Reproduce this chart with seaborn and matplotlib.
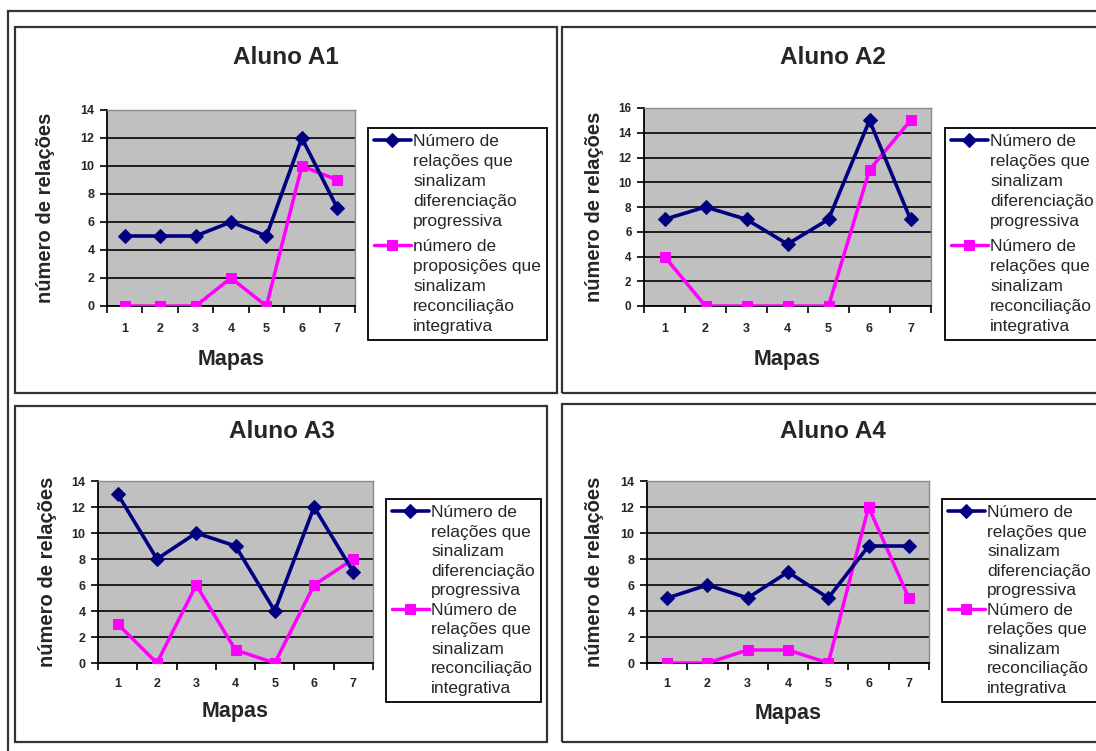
import matplotlib
matplotlib.use("Agg")
import matplotlib.pyplot as plt
from matplotlib.patches import Rectangle
import seaborn as sns
import pandas as pd

# ---------------- data ----------------
maps = [1, 2, 3, 4, 5, 6, 7]
a1_dif = [5, 5, 5, 6, 5, 12, 7]
a1_rec = [0, 0, 0, 2, 0, 10, 9]
a2_dif = [7, 8, 7, 5, 7, 15, 7]
a2_rec = [4, 0, 0, 0, 0, 11, 15]
a3_dif = [13, 8, 10, 9, 4, 12, 7]
a3_rec = [3, 0, 6, 1, 0, 6, 8]
a4_dif = [5, 6, 5, 7, 5, 9, 9]
a4_rec = [0, 0, 1, 1, 0, 12, 5]

titles = ["Aluno A1", "Aluno A2", "Aluno A3", "Aluno A4"]
y_max = [14, 16, 14, 14]
x_label = "Mapas"
y_label = "número de relações"
lab_dif = "Número de\nrelações que\nsinalizam\ndiferenciação\nprogressiva"
lab_rec_a1 = "número de\nproposições que\nsinalizam\nreconciliação\nintegrativa"
lab_rec = "Número de\nrelações que\nsinalizam\nreconciliação\nintegrativa"

series_dif = [a1_dif, a2_dif, a3_dif, a4_dif]
series_rec = [a1_rec, a2_rec, a3_rec, a4_rec]
labels_rec = [lab_rec_a1, lab_rec, lab_rec, lab_rec]

# ---------------- layout (pixels) ----------------
W, H = 1096, 751
panel_rects = [(15, 27, 557, 393), (562, 27, 1104, 393),
               (15, 406, 547, 742), (562, 404, 1104, 742)]
plot_rects = [(107, 110, 355, 306), (644, 108, 931, 306),
              (98, 481, 373, 663), (647, 481, 929, 663)]
legend_tl = [(368, 128), (945, 128), (386, 499), (942, 499)]
legend_labelspacing = [0.55, 0.55, 0.25, 0.25]
legend_linespacing = [1.42, 1.42, 1.38, 1.38]
title_c = [(286, 57), (833, 57), (282, 432), (833, 432)]
ylabel_x = [46, 594, 48, 594]
xlabel_y = [360, 360, 712, 713]
xtick_pad = [12, 12, 11, 11]
ytick_fs = [9, 8.5, 9, 9]

NAVY = "#000080"
MAGENTA = "#FF00FF"
PLOT_BG = "#C0C0C0"

sns.set_style("white")
plt.rcParams["font.family"] = ["Liberation Sans", "DejaVu Sans"]

fig = plt.figure(figsize=(W / 100, H / 100), dpi=100)
fig.patch.set_facecolor("white")


def fx(x):
    return x / W


def fy(y):
    return 1 - y / H


# outer frame (bottom and right edges fall outside the picture)
fig.patches.append(Rectangle((fx(8), fy(760)), fx(1110) - fx(8), fy(11) - fy(760),
                             transform=fig.transFigure, fill=False,
                             edgecolor="#333333", linewidth=1.6))
for (x0, y0, x1, y1) in panel_rects:
    fig.patches.append(Rectangle((fx(x0), fy(y1)), fx(x1) - fx(x0), fy(y0) - fy(y1),
                                 transform=fig.transFigure, fill=False,
                                 edgecolor="#333333", linewidth=1.6))

for i in range(4):
    x0, y0, x1, y1 = plot_rects[i]
    ax = fig.add_axes([fx(x0), fy(y1), fx(x1) - fx(x0), fy(y0) - fy(y1)])
    ax.set_facecolor(PLOT_BG)

    df = pd.DataFrame({"mapa": maps, "dif": series_dif[i], "rec": series_rec[i]})
    sns.lineplot(data=df, x="mapa", y="dif", ax=ax, color=NAVY, marker="D",
                 markersize=7, markeredgecolor=NAVY, linewidth=2.6,
                 label=lab_dif, zorder=4)
    sns.lineplot(data=df, x="mapa", y="rec", ax=ax, color=MAGENTA, marker="s",
                 markersize=7, markeredgecolor=MAGENTA, linewidth=2.5,
                 label=labels_rec[i], zorder=3)

    ymax = y_max[i]
    ax.set_xlim(0.5, 7.5)
    ax.set_ylim(0, ymax)
    ax.set_yticks(list(range(0, ymax + 1, 2)))
    ax.set_xticks([k + 0.5 for k in range(0, 8)])
    ax.set_xticklabels([])
    ax.set_xticks(maps, minor=True)
    ax.set_xticklabels([str(m) for m in maps], minor=True)
    ax.tick_params(axis="x", which="major", direction="out", length=5, width=1.2,
                   color="black", bottom=True)
    ax.tick_params(axis="x", which="minor", length=0, pad=xtick_pad[i],
                   labelsize=9)
    ax.tick_params(axis="y", direction="out", length=5, width=1.2, color="black",
                   left=True, pad=4, labelsize=ytick_fs[i])
    for lbl in ax.get_xticklabels(minor=True) + ax.get_yticklabels():
        lbl.set_fontweight("bold")

    ax.set_axisbelow(True)
    ax.yaxis.grid(True, color="black", linewidth=1.2)
    ax.xaxis.grid(False)
    gl = ax.get_ygridlines()
    if gl:
        gl[-1].set_visible(False)

    for s in ["left", "bottom"]:
        ax.spines[s].set_color("black")
        ax.spines[s].set_linewidth(1.3)
    for s in ["top", "right"]:
        ax.spines[s].set_color("#8a8a8a")
        ax.spines[s].set_linewidth(1.0)
        ax.spines[s].set_visible(True)

    ax.set_xlabel(x_label, fontsize=15.5, fontweight="bold")
    ax.set_ylabel(y_label, fontsize=14.5, fontweight="bold")
    pw = x1 - x0
    ph = y1 - y0
    ax.yaxis.set_label_coords((ylabel_x[i] - x0) / pw, 0.5)
    ax.yaxis.label.set_verticalalignment("center")
    ax.xaxis.set_label_coords(0.5, -(xlabel_y[i] - y1) / ph)
    ax.xaxis.label.set_verticalalignment("center")

    fig.text(fx(title_c[i][0]), fy(title_c[i][1]), titles[i], ha="center",
             va="center", fontsize=17.5, fontweight="bold")

    handles, labels = ax.get_legend_handles_labels()
    lx, ly = legend_tl[i]
    leg = ax.legend(handles, labels, loc="upper left",
                    bbox_to_anchor=(fx(lx), fy(ly)), bbox_transform=fig.transFigure,
                    frameon=True, fancybox=False, edgecolor="black", framealpha=1,
                    facecolor="white", fontsize=12.5, handlelength=2.1,
                    handletextpad=0.15, borderpad=0.35,
                    labelspacing=legend_labelspacing[i], borderaxespad=0)
    leg.get_frame().set_linewidth(1.3)
    for t in leg.get_texts():
        t.set_linespacing(legend_linespacing[i])
    try:
        for col in leg._legend_handle_box.get_children():
            for item in col.get_children():
                item.align = "top"
    except Exception:
        pass

fig.savefig("out.png", dpi=100, facecolor="white")
